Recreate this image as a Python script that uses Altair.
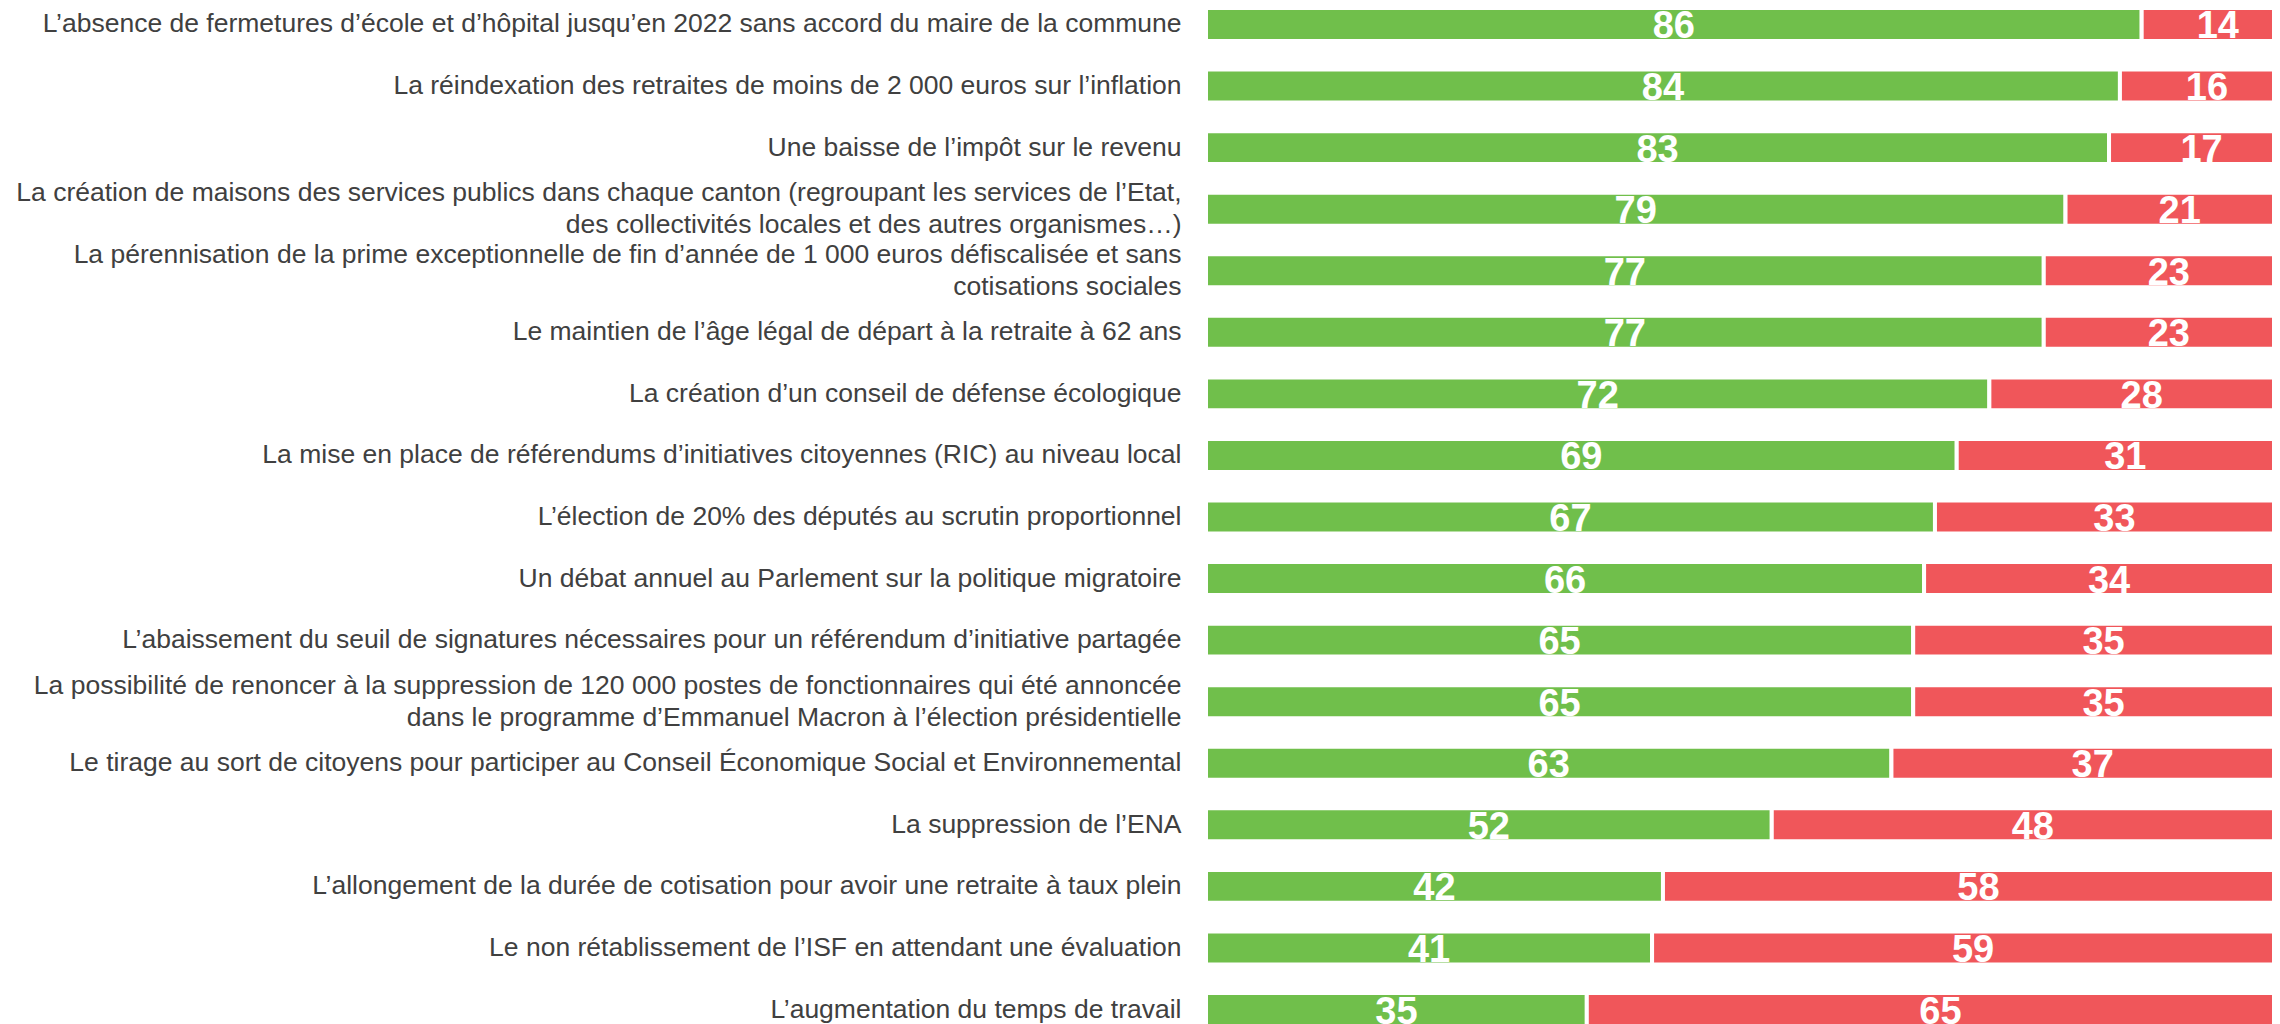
import altair as alt
import pandas as pd

items = [
    "L’absence de fermetures d’école et d’hôpital jusqu’en 2022 sans accord du maire de la commune",
    "La réindexation des retraites de moins de 2 000 euros sur l’inflation",
    "Une baisse de l’impôt sur le revenu",
    "La création de maisons des services publics dans chaque canton (regroupant les services de l’Etat,\ndes collectivités locales et des autres organismes…)",
    "La pérennisation de la prime exceptionnelle de fin d’année de 1 000 euros défiscalisée et sans\ncotisations sociales",
    "Le maintien de l’âge légal de départ à la retraite à 62 ans",
    "La création d’un conseil de défense écologique",
    "La mise en place de référendums d’initiatives citoyennes (RIC) au niveau local",
    "L’élection de 20% des députés au scrutin proportionnel",
    "Un débat annuel au Parlement sur la politique migratoire",
    "L’abaissement du seuil de signatures nécessaires pour un référendum d’initiative partagée",
    "La possibilité de renoncer à la suppression de 120 000 postes de fonctionnaires qui été annoncée\ndans le programme d’Emmanuel Macron à l’élection présidentielle",
    "Le tirage au sort de citoyens pour participer au Conseil Économique Social et Environnemental",
    "La suppression de l’ENA",
    "L’allongement de la durée de cotisation pour avoir une retraite à taux plein",
    "Le non rétablissement de l’ISF en attendant une évaluation",
    "L’augmentation du temps de travail",
]
pour = [86, 84, 83, 79, 77, 77, 72, 69, 67, 66, 65, 65, 63, 52, 42, 41, 35]
contre = [14, 16, 17, 21, 23, 23, 28, 31, 33, 34, 35, 35, 37, 48, 58, 59, 65]
opinions = ["Pour", "Contre"]
colors = ["#70BF4B", "#F0565A"]

rows = []
for it, p, c in zip(items, pour, contre):
    rows.append({"item": it, "opinion": "Pour", "value": p, "ord": 0})
    rows.append({"item": it, "opinion": "Contre", "value": c, "ord": 1})
df = pd.DataFrame(rows)

multi_test = "indexof(datum.value, '\\n') >= 0"

y_enc = alt.Y(
    "item:N",
    sort=items,
    scale=alt.Scale(paddingInner=0.464, paddingOuter=0),
    axis=alt.Axis(
        title=None,
        ticks=False,
        domain=False,
        grid=False,
        labelPadding=25,
        labelFontSize=26.5,
        labelFont="Liberation Sans",
        labelColor="#404040",
        labelLimit=0,
        labelLineHeight=32,
        labelExpr="split(datum.label, '\\n')",
        labelOffset=alt.condition(multi_test, alt.value(-16), alt.value(0)),
    ),
)
x_scale = alt.Scale(domain=[0, 100], nice=False, zero=True)

base = alt.Chart(df)

bars = base.mark_bar(stroke="white", strokeWidth=4).encode(
    y=y_enc,
    x=alt.X("value:Q", stack="zero", scale=x_scale, axis=None),
    color=alt.Color("opinion:N", scale=alt.Scale(domain=opinions, range=colors), legend=None),
    order=alt.Order("ord:Q"),
)

text = (
    base.transform_stack(
        stack="value",
        groupby=["item"],
        as_=["v0", "v1"],
        sort=[alt.SortField("ord", order="ascending")],
    )
    .transform_calculate(mid="(datum.v0 + datum.v1) / 2")
    .mark_text(
        font="Liberation Sans",
        fontSize=38,
        fontWeight="bold",
        color="white",
        baseline="middle",
        dy=3,
    )
    .encode(
        y=y_enc,
        x=alt.X("mid:Q", scale=x_scale, axis=None),
        text="value:Q",
    )
)

chart = (
    alt.layer(bars, text)
    .properties(
        width=1088,
        height=1018,
        autosize=alt.AutoSizeParams(type="none"),
        padding={"left": 1198, "top": 0, "right": -22, "bottom": -2},
    )
    .configure_view(stroke=None)
)

chart.save("out.html", embed_options={"renderer": "svg", "actions": False})
